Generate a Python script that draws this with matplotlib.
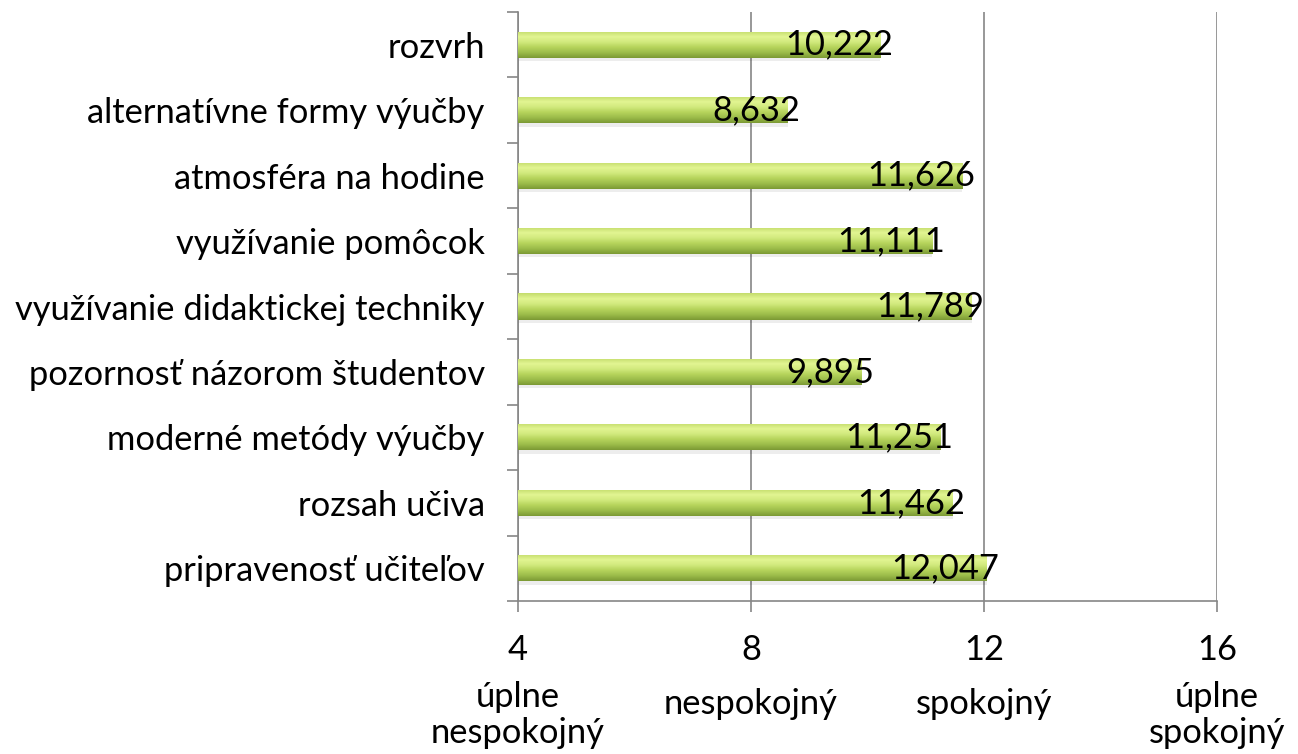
import matplotlib.pyplot as plt
import numpy as np
from matplotlib.colors import LinearSegmentedColormap

plt.rcParams['font.family'] = ['Lato', 'DejaVu Sans']

# data (bottom to top)
categories = ['pripravenosť učiteľov', 'rozsah učiva', 'moderné metódy výučby',
              'pozornosť názorom študentov', 'využívanie didaktickej techniky',
              'využívanie pomôcok', 'atmosféra na hodine',
              'alternatívne formy výučby', 'rozvrh']
values = [12.047, 11.462, 11.251, 9.895, 11.789, 11.111, 11.626, 8.632, 10.222]

xticks = [4, 8, 12, 16]
xdesc = ['úplne\nnespokojný', 'nespokojný', 'spokojný', 'úplne\nspokojný']

fig = plt.figure(figsize=(12.98, 7.54), dpi=100)
ax = fig.add_axes([518 / 1298, 153 / 754, 699 / 1298, 589 / 754])

axis_col = '#868686'
bar_h = 0.40
fs = 24.8

# gradient for the "cylinder" look (top -> bottom)
cmap = LinearSegmentedColormap.from_list('bar', ['#c4dc6c', '#e2f592', '#d2ea7e',
                                                 '#b6d45c', '#9cbc4a', '#7c9a34'])
grad = np.linspace(0, 1, 64).reshape(-1, 1)

ypos = np.arange(len(categories))
for y, v in zip(ypos, values):
    # soft shadow under the bar
    ax.barh(y - 0.05, v - 4, left=4, height=bar_h, color='#000000', alpha=0.07,
            linewidth=0, zorder=2)
    b = ax.barh(y, v - 4, left=4, height=bar_h, color='#b5d35a', linewidth=0, zorder=3)[0]
    im = ax.imshow(grad, cmap=cmap, aspect='auto', origin='upper',
                   extent=[4, v, y - bar_h / 2, y + bar_h / 2], zorder=3.5)
    im.set_clip_path(b)
    label = f'{v:.3f}'.replace('.', ',')
    ax.annotate(label, xy=(v, y), xytext=(9, 0), textcoords='offset points',
                ha='right', va='center', fontsize=fs, color='black', zorder=5)

ax.set_xlim(4, 16)
ax.set_ylim(-0.5, len(categories) - 0.5)

ax.set_yticks(ypos)
ax.set_yticklabels(categories, fontsize=fs)
ax.set_yticks(np.arange(-0.5, len(categories), 1), minor=True)
ax.tick_params(axis='y', which='major', length=0, pad=24)
ax.tick_params(axis='y', which='minor', length=8, width=1.2, color=axis_col, direction='out')

ax.set_xticks(xticks)
ax.set_xticklabels([str(t) for t in xticks], fontsize=fs)
ax.tick_params(axis='x', length=8, width=1.2, color=axis_col, direction='out', pad=16)

# descriptive words under the numbers
for t, d in zip(xticks, xdesc):
    dy = -82 if '\n' in d else -74
    ax.annotate(d, xy=(t, 0), xycoords=('data', 'axes fraction'),
                xytext=(0, dy), textcoords='offset points',
                ha='center', va='center', fontsize=fs, linespacing=1.15)

ax.grid(axis='x', color=axis_col, linewidth=1.2, zorder=0)
ax.set_axisbelow(True)
for s in ['top', 'right']:
    ax.spines[s].set_visible(False)
for s in ['left', 'bottom']:
    ax.spines[s].set_color(axis_col)
    ax.spines[s].set_linewidth(1.2)

fig.savefig('out.png', dpi=100)
